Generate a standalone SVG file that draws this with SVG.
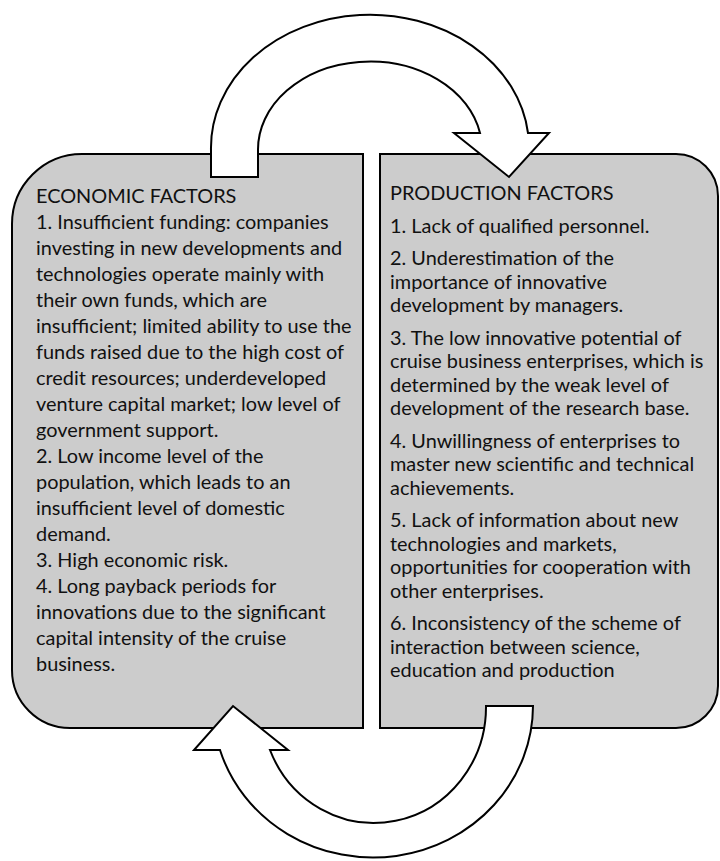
<svg xmlns="http://www.w3.org/2000/svg" width="720" height="861" viewBox="0 0 720 861">
<style>
.box{fill:#cccccc;stroke:#000;stroke-width:2}
.arr{fill:#fff;stroke:#000;stroke-width:2;stroke-linejoin:miter}
.t{font-family:Lato,"Open Sans","Liberation Sans",sans-serif;font-size:19.9px;fill:#111}
</style>
<rect width="720" height="861" fill="#fff"/>
<g id="economic">
<path class="box" d="M82 154 L363 154 L363 728 L70 728 A58 58 0 0 1 12 670 L12 224 A70 70 0 0 1 82 154 Z"/>
<text class="t">
<tspan x="36" y="203">ECONOMIC FACTORS</tspan>
<tspan x="36" y="229">1. Insufficient funding: companies</tspan>
<tspan x="36" y="255">investing in new developments and</tspan>
<tspan x="36" y="281">technologies operate mainly with</tspan>
<tspan x="36" y="307">their own funds, which are</tspan>
<tspan x="36" y="333">insufficient; limited ability to use the</tspan>
<tspan x="36" y="359">funds raised due to the high cost of</tspan>
<tspan x="36" y="385">credit resources; underdeveloped</tspan>
<tspan x="36" y="411">venture capital market; low level of</tspan>
<tspan x="36" y="437">government support.</tspan>
<tspan x="36" y="463">2. Low income level of the</tspan>
<tspan x="36" y="489">population, which leads to an</tspan>
<tspan x="36" y="515">insufficient level of domestic</tspan>
<tspan x="36" y="541">demand.</tspan>
<tspan x="36" y="567">3. High economic risk.</tspan>
<tspan x="36" y="593">4. Long payback periods for</tspan>
<tspan x="36" y="619">innovations due to the significant</tspan>
<tspan x="36" y="645">capital intensity of the cruise</tspan>
<tspan x="36" y="671">business.</tspan>
</text>
</g>
<g id="production">
<path class="box" d="M380 154 L676 154 A42 42 0 0 1 718 196 L718 686 A42 42 0 0 1 676 728 L380 728 Z"/>
<text class="t">
<tspan x="390" y="200">PRODUCTION FACTORS</tspan>
<tspan x="390" y="232.5">1. Lack of qualified personnel.</tspan>
<tspan x="390" y="265">2. Underestimation of the</tspan>
<tspan x="390" y="288.5">importance of innovative</tspan>
<tspan x="390" y="312">development by managers.</tspan>
<tspan x="390" y="344.5">3. The low innovative potential of</tspan>
<tspan x="390" y="368">cruise business enterprises, which is</tspan>
<tspan x="390" y="391.5">determined by the weak level of</tspan>
<tspan x="390" y="415">development of the research base.</tspan>
<tspan x="390" y="447.5">4. Unwillingness of enterprises to</tspan>
<tspan x="390" y="471">master new scientific and technical</tspan>
<tspan x="390" y="494.5">achievements.</tspan>
<tspan x="390" y="527">5. Lack of information about new</tspan>
<tspan x="390" y="550.5">technologies and markets,</tspan>
<tspan x="390" y="574">opportunities for cooperation with</tspan>
<tspan x="390" y="597.5">other enterprises.</tspan>
<tspan x="390" y="630">6. Inconsistency of the scheme of</tspan>
<tspan x="390" y="653.5">interaction between science,</tspan>
<tspan x="390" y="677">education and production</tspan>
</text>
</g>
<g id="connectors">
<path id="arrow-top" class="arr" d="M211 177 L211 150 A159 133 0 0 1 528 133 L549 133 L509 177 L454 133 L480 133 A112 88 0 0 0 258 150 L258 177 Z"/>
<path id="arrow-bottom" class="arr" d="M486 706 L533 706 A160 152 0 0 1 220 750 L194 750 L233 706 L288 750 L270 750 A112 116 0 0 0 486 706 Z"/>
</g>
</svg>
